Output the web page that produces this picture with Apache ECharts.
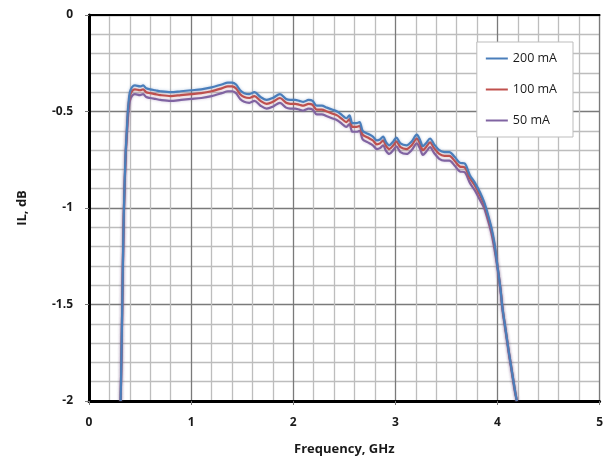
<!DOCTYPE html>
<html>
<head>
<meta charset="utf-8">
<script src="https://cdn.jsdelivr.net/npm/echarts@6/dist/echarts.min.js"></script>
<style>
html,body{margin:0;padding:0;background:#fff;}
#chart{width:606px;height:463px;}
</style>
</head>
<body>
<div id="chart"></div>
<script>
const freq = [0.31,0.32,0.33,0.34,0.35,0.36,0.37,0.38,0.39,0.40,0.42,0.45,0.50,0.53,0.56,0.60,0.65,0.70,0.80,0.90,1.00,1.10,1.20,1.30,1.36,1.40,1.44,1.48,1.52,1.57,1.62,1.68,1.74,1.80,1.87,1.93,1.97,2.02,2.06,2.10,2.15,2.19,2.23,2.28,2.33,2.38,2.43,2.48,2.52,2.55,2.58,2.62,2.65,2.68,2.73,2.78,2.82,2.85,2.88,2.91,2.94,2.98,3.01,3.05,3.11,3.16,3.21,3.24,3.27,3.30,3.34,3.38,3.43,3.48,3.53,3.58,3.63,3.68,3.73,3.78,3.83,3.87,3.91,3.94,3.97,4.00,4.03,4.05,4.08,4.11,4.14,4.17,4.19];

const il200 = [-2.0,-1.7,-1.35,-1.05,-0.85,-0.70,-0.60,-0.50,-0.44,-0.40,-0.375,-0.365,-0.37,-0.365,-0.38,-0.385,-0.39,-0.395,-0.40,-0.395,-0.39,-0.385,-0.375,-0.36,-0.35,-0.35,-0.36,-0.39,-0.405,-0.41,-0.40,-0.425,-0.44,-0.43,-0.41,-0.435,-0.44,-0.44,-0.445,-0.45,-0.44,-0.445,-0.47,-0.47,-0.48,-0.49,-0.50,-0.52,-0.535,-0.52,-0.56,-0.56,-0.555,-0.60,-0.615,-0.63,-0.65,-0.645,-0.63,-0.66,-0.675,-0.655,-0.635,-0.665,-0.675,-0.655,-0.62,-0.645,-0.68,-0.665,-0.64,-0.67,-0.70,-0.71,-0.71,-0.735,-0.765,-0.77,-0.83,-0.87,-0.92,-0.97,-1.04,-1.10,-1.18,-1.30,-1.42,-1.52,-1.63,-1.74,-1.84,-1.94,-2.0];

const il100 = [-2.0,-1.7,-1.35,-1.05,-0.86,-0.71,-0.61,-0.515,-0.455,-0.42,-0.395,-0.385,-0.39,-0.385,-0.40,-0.405,-0.41,-0.415,-0.42,-0.415,-0.41,-0.405,-0.395,-0.38,-0.37,-0.37,-0.38,-0.41,-0.425,-0.43,-0.42,-0.445,-0.46,-0.45,-0.43,-0.455,-0.46,-0.46,-0.465,-0.47,-0.46,-0.465,-0.49,-0.49,-0.50,-0.51,-0.52,-0.54,-0.555,-0.54,-0.58,-0.58,-0.575,-0.62,-0.635,-0.65,-0.67,-0.665,-0.65,-0.68,-0.695,-0.675,-0.655,-0.685,-0.695,-0.675,-0.64,-0.665,-0.70,-0.685,-0.66,-0.69,-0.72,-0.73,-0.73,-0.755,-0.785,-0.79,-0.845,-0.885,-0.935,-0.98,-1.05,-1.11,-1.19,-1.30,-1.42,-1.52,-1.63,-1.74,-1.84,-1.94,-2.0];

const il50 = [-2.0,-1.7,-1.36,-1.06,-0.87,-0.72,-0.63,-0.54,-0.48,-0.445,-0.42,-0.41,-0.415,-0.41,-0.425,-0.43,-0.435,-0.44,-0.445,-0.44,-0.435,-0.43,-0.42,-0.405,-0.395,-0.395,-0.405,-0.435,-0.45,-0.455,-0.445,-0.47,-0.485,-0.475,-0.455,-0.48,-0.485,-0.485,-0.49,-0.495,-0.485,-0.49,-0.515,-0.515,-0.525,-0.535,-0.545,-0.565,-0.58,-0.565,-0.605,-0.605,-0.60,-0.645,-0.66,-0.675,-0.695,-0.69,-0.675,-0.705,-0.72,-0.70,-0.68,-0.71,-0.72,-0.70,-0.665,-0.69,-0.725,-0.71,-0.685,-0.715,-0.745,-0.755,-0.755,-0.78,-0.81,-0.815,-0.87,-0.91,-0.96,-1.0,-1.07,-1.13,-1.21,-1.31,-1.43,-1.53,-1.64,-1.75,-1.85,-1.95,-2.0];

const seriesNames = ['200 mA','100 mA','50 mA'];
const seriesColors = ['#4a7ebb','#c0504d','#8064a2'];
const seriesData = [il200, il100, il50];

const chart = echarts.init(document.getElementById('chart'), null, {renderer:'canvas'});
const fontFam = '"Open Sans", "DejaVu Sans", sans-serif';

const series = seriesNames.map((n,i)=>({
  name:n,
  type:'line',
  symbol:'none',
  smooth:0.3,
  data: freq.map((f,k)=>[f, seriesData[i][k]]),
  lineStyle:{color:seriesColors[i], width:2.2, shadowColor:seriesColors[i]+'66', shadowBlur:3},
  itemStyle:{color:seriesColors[i]},
  z: 10 - i
}));

chart.setOption({
  animation:false,
  backgroundColor:'#fff',
  grid:{left:89, top:15, right:6, bottom:62, show:true, borderColor:'#777', borderWidth:1},
  legend:{
    orient:'vertical',
    right:33, top:42,
    data:seriesNames,
    icon:'rect',
    itemWidth:22, itemHeight:2,
    itemGap:18,
    padding:[10,16,10,9],
    backgroundColor:'#fff',
    borderColor:'#bdbdbd', borderWidth:1,
    textStyle:{fontFamily:fontFam, fontSize:12.5, color:'#1a1a1a'}
  },
  xAxis:[{
    type:'value', min:0, max:5, interval:1,
    name:'Frequency, GHz', nameLocation:'middle', nameGap:42,
    nameTextStyle:{fontFamily:fontFam, fontSize:13, fontWeight:'bold', color:'#1a1a1a'},
    axisLine:{show:true, onZero:false, lineStyle:{color:'#000', width:3}},
    axisTick:{show:true, length:4, inside:false, lineStyle:{color:'#777', width:1}},
    axisLabel:{fontFamily:fontFam, fontSize:12, fontWeight:'bold', color:'#1a1a1a', margin:16},
    splitLine:{show:true, lineStyle:{color:'#7a7a7a', width:1.3}},
    minorTick:{show:false, splitNumber:5},
    minorSplitLine:{show:true, lineStyle:{color:'#bdbdbd', width:1.3}}
  },{
    type:'value', min:0, max:5, interval:1, position:'top',
    axisLine:{show:true, onZero:false, lineStyle:{color:'#000', width:2}},
    axisTick:{show:false}, axisLabel:{show:false}, splitLine:{show:false}
  }],
  yAxis:[{
    type:'value', min:-2, max:0, interval:0.5,
    name:'IL, dB', nameLocation:'middle', nameGap:60,
    nameTextStyle:{fontFamily:fontFam, fontSize:13, fontWeight:'bold', color:'#1a1a1a'},
    axisLine:{show:true, onZero:false, lineStyle:{color:'#000', width:3}},
    axisTick:{show:true, length:4, lineStyle:{color:'#777', width:1}},
    axisLabel:{fontFamily:fontFam, fontSize:12, fontWeight:'bold', color:'#1a1a1a', margin:16},
    splitLine:{show:true, lineStyle:{color:'#7a7a7a', width:1.3}},
    minorTick:{show:false, splitNumber:5},
    minorSplitLine:{show:true, lineStyle:{color:'#bdbdbd', width:1.3}}
  }],
  series: series
});
</script>
</body>
</html>
